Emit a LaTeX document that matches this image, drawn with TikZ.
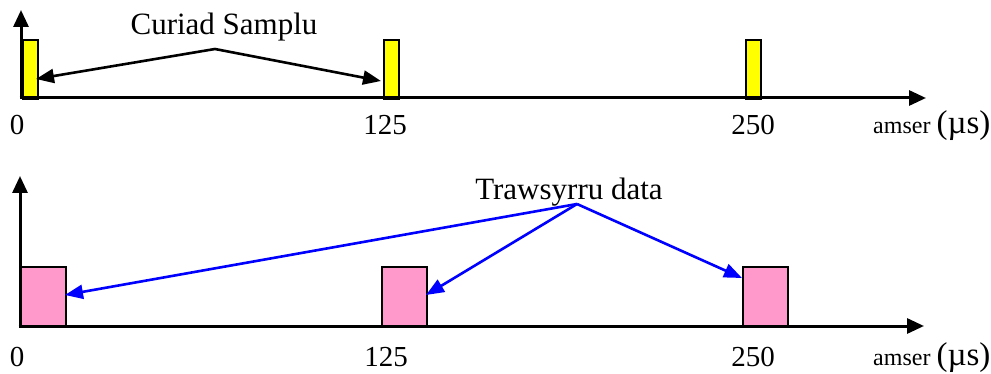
\documentclass[tikz,border=0pt]{standalone}
\usepackage{fontspec}
\setmainfont{Liberation Serif}
\usetikzlibrary{arrows.meta}
\definecolor{pinkbox}{HTML}{FF99CC}
\definecolor{ybar}{HTML}{FFFF00}
\begin{document}
\begin{tikzpicture}[x=1pt,y=-1pt,
  axis/.style={line width=3pt,-{Triangle[length=17pt,width=15pt]}},
  sbar/.style={draw,line width=2pt,fill=ybar,anchor=north west,inner sep=0,minimum width=15pt,minimum height=59pt},
  dbox/.style={draw,line width=2pt,fill=pinkbox,anchor=north west,inner sep=0,minimum width=45pt,minimum height=60pt},
  blk/.style={line width=2.6pt,-{Triangle[length=18pt,width=14pt]}},
  blu/.style={line width=2.6pt,blue,-{Triangle[length=18pt,width=14pt]}},
  lbl/.style={font=\fontsize{31}{36}\selectfont,anchor=base,inner sep=0},
  num/.style={font=\fontsize{29}{34}\selectfont,anchor=base,inner sep=0},
  unit/.style={anchor=base west,inner sep=0}]
\useasboundingbox (0,0) rectangle (991,374);
% top chart
\node[sbar] (y1) at (21.5,39) {};
\node[sbar] (y2) at (382.5,39) {};
\node[sbar] (y3) at (745,39) {};
\foreach \b in {y1,y2,y3}{\draw[white,line width=1pt] ([xshift=1.5pt,yshift=3pt]\b.south west) -- ([xshift=-1.5pt,yshift=3pt]\b.south east);}
\coordinate (o1) at (21,98);
\coordinate (v1) at (21,10);
\coordinate (h1) at (926,98);
\draw[axis] (o1) -- (v1);
\draw[axis] (19.5,98) -- (h1);
\node[lbl] (cs) at (224,35) {Curiad Samplu};
\coordinate (a1) at (215,49);
\coordinate (t1) at (36,79);
\coordinate (t2) at (381,81);
\draw[blk] (a1) -- (t1);
\draw[blk] (a1) -- (t2);
\node[num] (n0a) at (17,135) {0};
\node[num] (n1a) at (385,135) {125};
\node[num] (n2a) at (753,135) {250};
\node[unit] (ua) at (873,134) {{\fontsize{24}{28}\selectfont amser}\hspace{6pt}{\fontsize{33}{36}\selectfont (µs)}};
% bottom chart
\node[dbox] (d1) at (20,266) {};
\node[dbox] (d2) at (381,266) {};
\node[dbox] (d3) at (742,266) {};
\coordinate (o2) at (20,326);
\coordinate (v2) at (20,176);
\coordinate (h2) at (924,326);
\draw[axis] (o2) -- (v2);
\draw[axis] (18.5,326) -- (h2);
\node[lbl] (td) at (569,200) {Trawsyrru data};
\coordinate (a2) at (577,204);
\coordinate (b1) at (65,295);
\coordinate (b2) at (426,295);
\coordinate (b3) at (742,278);
\draw[blu] (a2) -- (b1);
\draw[blu] (a2) -- (b2);
\draw[blu] (a2) -- (b3);
\node[num] (n0b) at (17,366) {0};
\node[num] (n1b) at (386,366) {125};
\node[num] (n2b) at (753,366) {250};
\node[unit] (ub) at (873,365) {{\fontsize{24}{28}\selectfont amser}\hspace{6pt}{\fontsize{33}{36}\selectfont (µs)}};
\end{tikzpicture}
\end{document}
